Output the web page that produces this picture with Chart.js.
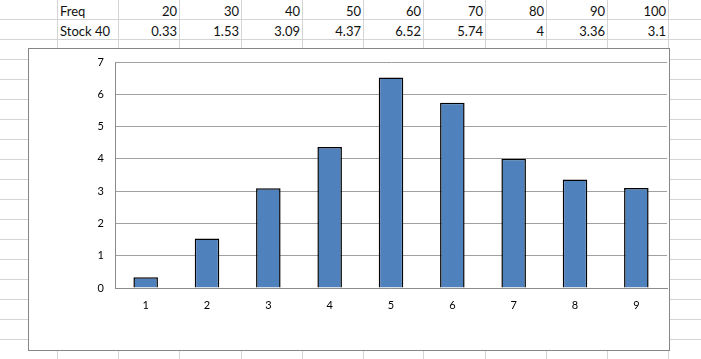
<!DOCTYPE html>
<html>
<head>
<meta charset="utf-8">
<script src="https://cdn.jsdelivr.net/npm/chart.js@4.4.0/dist/chart.umd.min.js"></script>
<style>
  html, body { margin: 0; padding: 0; background: #fff; }
  body { width: 701px; height: 359px; position: relative; overflow: hidden; font-family: Lato, "Noto Sans", sans-serif; }
  .vl { position: absolute; top: 0; width: 1px; height: 359px; background: #d4d4d4; }
  .hl { position: absolute; left: 0; height: 1px; width: 701px; background: #d4d4d4; }
  .cell { position: absolute; height: 19px; line-height: 19px; font-size: 13px; color: #111; white-space: nowrap; }
  #chartBox { position: absolute; left: 28px; top: 48px; width: 642px; height: 303px; box-sizing: border-box; border: 1px solid #868686; background: #fff; }
  #chartBox canvas { display: block; }
</style>
</head>
<body>
<div id="sheet"></div>
<div id="chartBox"><canvas id="c" width="640" height="301"></canvas></div>
<script>
// ---- data ----
const categories = ["1", "2", "3", "4", "5", "6", "7", "8", "9"];
const freq = [20, 30, 40, 50, 60, 70, 80, 90, 100];
const stock40 = [0.33, 1.53, 3.09, 4.37, 6.52, 5.74, 4, 3.36, 3.1];
const rowLabels = ["Freq", "Stock 40"];
const yTicks = [0, 1, 2, 3, 4, 5, 6, 7];

// ---- spreadsheet grid ----
const sheet = document.getElementById('sheet');
const colLines = [57, 118, 179, 241, 302, 363, 423, 485, 546, 607, 668];
colLines.forEach(x => {
  const d = document.createElement('div'); d.className = 'vl'; d.style.left = x + 'px'; sheet.appendChild(d);
});
for (let y = 19; y < 359; y += 20) {
  const d = document.createElement('div'); d.className = 'hl'; d.style.top = y + 'px'; sheet.appendChild(d);
}
function addCell(text, left, right, top, align) {
  const d = document.createElement('div'); d.className = 'cell';
  d.textContent = text;
  d.style.top = top + 'px';
  if (align === 'left') { d.style.left = (left + 3) + 'px'; }
  else { d.style.right = (701 - right + 2) + 'px'; }
  sheet.appendChild(d);
}
const rowTops = [2, 22];
addCell(rowLabels[0], colLines[0], colLines[1], rowTops[0], 'left');
addCell(rowLabels[1], colLines[0], colLines[1], rowTops[1], 'left');
freq.forEach((f, i) => addCell(String(f), colLines[i + 1], colLines[i + 2], rowTops[0], 'right'));
stock40.forEach((v, i) => addCell(String(v), colLines[i + 1], colLines[i + 2], rowTops[1], 'right'));

// ---- chart ----
const gridColor = '#a0a0a0';
const axisColor = '#8c8c8c';
new Chart(document.getElementById('c'), {
  type: 'bar',
  data: {
    labels: categories,
    datasets: [{
      label: 'Stock 40',
      data: stock40,
      backgroundColor: '#4F81BD',
      borderColor: '#000000',
      borderWidth: 1.5,
      borderSkipped: 'start',
      barPercentage: 0.4,
      categoryPercentage: 1.0
    }]
  },
  options: {
    responsive: false,
    animation: false,
    events: [],
    layout: { padding: { left: 0, top: 13, right: 2, bottom: 0 } },
    plugins: { legend: { display: false }, tooltip: { enabled: false } },
    scales: {
      x: {
        grid: { display: false, drawTicks: false },
        border: { display: true, color: axisColor, width: 1 },
        ticks: { color: '#000', font: { family: 'Lato', size: 11 }, padding: 11, maxRotation: 0 },
        afterFit: s => { s.height = 62; s.paddingLeft = 0; s.paddingRight = 0; }
      },
      y: {
        min: yTicks[0], max: yTicks[yTicks.length - 1],
        ticks: { stepSize: 1, color: '#000', font: { family: 'Lato', size: 11 }, padding: 11 },
        grid: { color: gridColor, drawTicks: false, lineWidth: 1 },
        border: { display: true, color: axisColor, width: 1 },
        afterFit: s => { s.width = 86; s.paddingTop = 0; s.paddingBottom = 0; }
      }
    }
  }
});
</script>
</body>
</html>
